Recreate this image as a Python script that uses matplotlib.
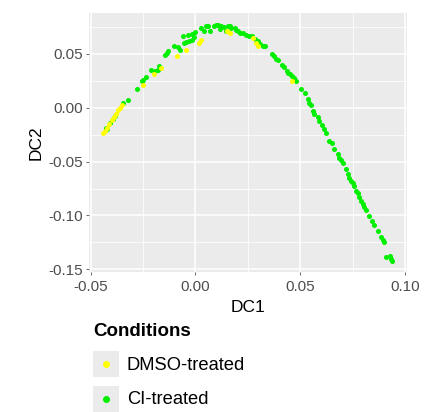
import matplotlib
matplotlib.use("Agg")
import matplotlib.pyplot as plt
from matplotlib.patches import Rectangle
from matplotlib.lines import Line2D

plt.rcParams["font.family"] = ["Liberation Sans", "DejaVu Sans"]

# DMSO-treated cells (yellow)
dmso_dc1 = [-0.0440, -0.0432, -0.0421, -0.0411, -0.0400, -0.0389, -0.0379, -0.0368,
            -0.0360, -0.0352, -0.0249, -0.0198, -0.0162, -0.0087, -0.0046, 0.0016,
            0.0027, 0.0152, 0.0163, 0.0275, 0.0290, 0.0298, 0.0462]
dmso_dc2 = [-0.0231, -0.0216, -0.0185, -0.0154, -0.0114, -0.0083, -0.0056, -0.0025,
            0.0000, 0.0022, 0.0216, 0.0309, 0.0370, 0.0485, 0.0534, 0.0602,
            0.0633, 0.0710, 0.0694, 0.0648, 0.0602, 0.0577, 0.0253]

# CI-treated cells (green)
ci_dc1 = [-0.0427, -0.0424, -0.0408, -0.0392, -0.0384, -0.0348, -0.0324, -0.0281,
          -0.0257, -0.0252, -0.0237, -0.0213, -0.0194, -0.0178, -0.0173, -0.0146,
          -0.0138, -0.0130, -0.0103, -0.0083, -0.0075, -0.0056, -0.0043, -0.0030,
          -0.0017, -0.0008, -0.0059, -0.0035, -0.0014, 0.0000, 0.0025, 0.0040,
          0.0049, 0.0060, 0.0071, 0.0087, 0.0097, 0.0108, 0.0116, 0.0124,
          0.0135, 0.0144, 0.0156, 0.0163, 0.0171, 0.0187, 0.0195, 0.0203,
          0.0214, 0.0227, 0.0243, 0.0256, 0.0270, 0.0283, 0.0298, 0.0310,
          0.0322, 0.0330, 0.0367, 0.0375, 0.0383, 0.0394, 0.0414, 0.0425,
          0.0437, 0.0443, 0.0452, 0.0460, 0.0470, 0.0478, 0.0505, 0.0521,
          0.0537, 0.0544, 0.0552, 0.0560, 0.0568, 0.0584, 0.0592, 0.0605,
          0.0613, 0.0621, 0.0640, 0.0652, 0.0663, 0.0679, 0.0687, 0.0695,
          0.0703, 0.0719, 0.0727, 0.0735, 0.0743, 0.0751, 0.0759, 0.0767,
          0.0775, 0.0783, 0.0790, 0.0798, 0.0806, 0.0814, 0.0830, 0.0843,
          0.0854, 0.0870, 0.0886, 0.0894, 0.0902, 0.0910, 0.0929, 0.0933,
          0.0938]
ci_dc2 = [-0.0191, -0.0201, -0.0145, -0.0102, -0.0077, 0.0040, 0.0068, 0.0176,
          0.0247, 0.0262, 0.0287, 0.0349, 0.0340, 0.0355, 0.0386, 0.0494,
          0.0509, 0.0531, 0.0577, 0.0565, 0.0534, 0.0602, 0.0608, 0.0617,
          0.0627, 0.0657, 0.0664, 0.0679, 0.0685, 0.0701, 0.0741, 0.0710,
          0.0756, 0.0762, 0.0710, 0.0756, 0.0765, 0.0769, 0.0731, 0.0762,
          0.0750, 0.0710, 0.0762, 0.0756, 0.0741, 0.0741, 0.0719, 0.0710,
          0.0694, 0.0694, 0.0679, 0.0670, 0.0664, 0.0639, 0.0617, 0.0596,
          0.0577, 0.0577, 0.0503, 0.0478, 0.0454, 0.0448, 0.0401, 0.0377,
          0.0340, 0.0324, 0.0309, 0.0293, 0.0272, 0.0253, 0.0176, 0.0133,
          0.0077, 0.0046, 0.0022, -0.0031, -0.0062, -0.0083, -0.0123, -0.0164,
          -0.0201, -0.0231, -0.0309, -0.0330, -0.0386, -0.0432, -0.0463, -0.0488,
          -0.0509, -0.0571, -0.0617, -0.0648, -0.0679, -0.0701, -0.0725, -0.0772,
          -0.0793, -0.0824, -0.0864, -0.0895, -0.0926, -0.0948, -0.1003, -0.1049,
          -0.1090, -0.1142, -0.1204, -0.1228, -0.1250, -0.1383, -0.1373, -0.1404,
          -0.1420]

x_ticks = [-0.05, 0.00, 0.05, 0.10]
y_ticks = [-0.15, -0.10, -0.05, 0.00, 0.05]
labels = ["DMSO-treated", "CI-treated"]
colors = ["#FFFF00", "#00EE00"]

W, H = 426, 412
fig = plt.figure(figsize=(W / 100, H / 100), dpi=100)
ax = fig.add_axes([89 / W, 1 - 272 / H, (407 - 89) / W, (272 - 13) / H])
ax.set_facecolor("#EBEBEB")
for s in ax.spines.values():
    s.set_visible(False)

ax.scatter(ci_dc1, ci_dc2, s=13, color=colors[1], linewidths=0, zorder=3)
ax.scatter(dmso_dc1, dmso_dc2, s=13, color=colors[0], linewidths=0, zorder=3)

ax.set_xlim(-0.0508, 0.101)
ax.set_ylim(-0.1525, 0.088)
ax.set_xticks(x_ticks)
ax.set_xticklabels([f"{v:.2f}" for v in x_ticks])
ax.set_yticks(y_ticks)
ax.set_yticklabels([f"{v:.2f}" for v in y_ticks])
ax.set_xticks([-0.025, 0.025, 0.075], minor=True)
ax.set_yticks([-0.125, -0.075, -0.025, 0.025, 0.075], minor=True)
ax.grid(which="major", color="white", linewidth=1.1, zorder=1)
ax.grid(which="minor", color="white", linewidth=0.55, zorder=1)
ax.set_axisbelow(True)
ax.tick_params(which="major", length=2.5, width=0.7, color="#666666",
               labelsize=11, labelcolor="#4D4D4D")
ax.tick_params(axis="x", pad=3.5)
ax.tick_params(axis="y", pad=2)
ax.tick_params(which="minor", length=0)

ax.set_xlabel("DC1", fontsize=12.5, color="black", labelpad=4)
ax.set_ylabel("DC2", fontsize=12.5, color="black", labelpad=3)

# legend below the panel
fig.text(93 / W, 1 - 332 / H, "Conditions", fontsize=13.5, fontweight="bold",
         va="center", ha="left")
key_tops = [351, 386]
for top, lab, col in zip(key_tops, labels, colors):
    fig.add_artist(Rectangle((93 / W, 1 - (top + 26) / H), 26 / W, 26 / H,
                             transform=fig.transFigure, facecolor="#EBEBEB",
                             edgecolor="none"))
    fig.add_artist(Line2D([106 / W], [1 - (top + 13) / H], transform=fig.transFigure,
                          marker="o", markersize=4, color=col, linestyle="none"))
    fig.text(127 / W, 1 - (top + 14) / H, lab, fontsize=13.2, va="center", ha="left")

fig.savefig("out.png", dpi=100)
